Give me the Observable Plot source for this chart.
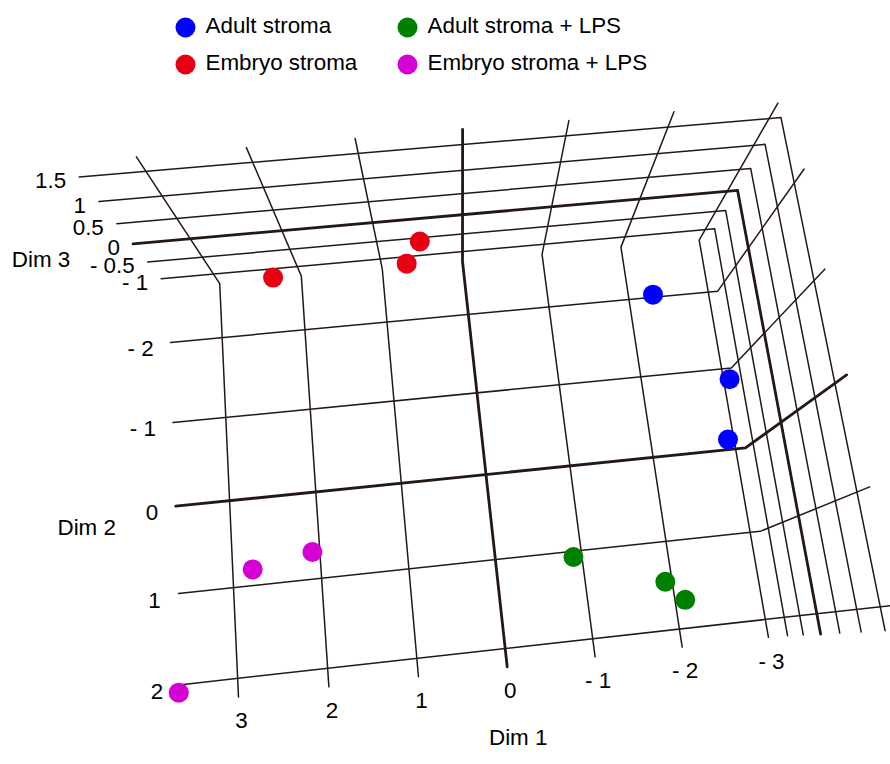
<!DOCTYPE html>
<html>
<head>
<meta charset="utf-8">
<script src="https://cdn.jsdelivr.net/npm/d3@7"></script>
<script src="https://cdn.jsdelivr.net/npm/@observablehq/plot@0.6"></script>
<style>
  html, body { margin: 0; padding: 0; background: #fff; overflow: hidden; }
  #chart svg { display: block; }
</style>
</head>
<body>
<div id="chart"></div>
<script>
// ---- data ----
const groups = ["Adult stroma", "Embryo stroma", "Adult stroma + LPS", "Embryo stroma + LPS"];
const groupColors = ["#0000ff", "#e60012", "#008000", "#d400d4"];

const sampleGroup = [
  "Adult stroma", "Adult stroma", "Adult stroma",
  "Embryo stroma", "Embryo stroma", "Embryo stroma",
  "Adult stroma + LPS", "Adult stroma + LPS", "Adult stroma + LPS",
  "Embryo stroma + LPS", "Embryo stroma + LPS", "Embryo stroma + LPS"
];
const dim1 = [-2.18, -3.01, -2.68, 0.50, 0.65, 1.89, -0.70, -1.68, -1.81, 2.40, 1.78, 3.22];
const dim2 = [-1.85, -0.81, 0.03, -1.88, -1.75, -1.56, 1.20, 1.51, 1.72, 1.01, 0.94, 2.07];
const dim3 = [-0.8, -1.1, -0.5, 1.2, 1.0, 1.4, 0.3, -0.2, 0.0, 0.5, 0.8, 0.2];

const dim1Ticks = [3, 2, 1, 0, -1, -2, -3];
const dim1Labels = ["3", "2", "1", "0", "- 1", "- 2", "- 3"];
const dim2Ticks = [-2, -1, 0, 1, 2];
const dim2Labels = ["- 2", "- 1", "0", "1", "2"];
const dim3Ticks = [-1, -0.5, 0, 0.5, 1, 1.5];
const dim3Labels = ["- 1", "- 0.5", "0", "0.5", "1", "1.5"];

// box extents (data units)
const dim1Extent = [-3.12, 3.62];
const dim2Extent = [-2.7, 2.2];
const dim3Extent = [-1.3, 1.77];

// ---- 3D view (homogeneous perspective camera matrix) ----
const camera = [
  [-86.5,   -1,     -40.12,  433.34],
  [  6.5,   73.4,   -56.66,  400.34],
  [-0.00448, -0.021, -0.0869, 0.88703]
];
function project(X, Y, Z) {
  const h = camera.map(r => r[0] * X + r[1] * Y + r[2] * Z + r[3]);
  return [h[0] / h[2], h[1] / h[2]];
}

const [x0, x1] = dim1Extent, [y0, y1] = dim2Extent, [z0, z1] = dim3Extent;

// grid polylines (floor + two walls)
const grid = [];
function addLine(id, pts, thick) {
  pts.forEach(([X, Y, Z]) => {
    const [px, py] = project(X, Y, Z);
    grid.push({id, px, py, thick});
  });
}
dim1Ticks.forEach(v => addLine("d1_" + v, [[v, y1, z0], [v, y0, z0], [v, y0, z1]], v === 0));
dim2Ticks.forEach(v => addLine("d2_" + v, [[x1, v, z0], [x0, v, z0], [x0, v, z1]], v === 0));
dim3Ticks.forEach(v => addLine("d3_" + v, [[x1, y0, v], [x0, y0, v], [x0, y1, v]], v === 0));

// sample points
const samples = sampleGroup.map((g, i) => {
  const [px, py] = project(dim1[i], dim2[i], dim3[i]);
  return {group: g, px, py};
});

// tick labels
const t1 = dim1Ticks.map((v, i) => { const [px, py] = project(v, y1, z0); return {px, py, label: dim1Labels[i]}; });
const t2 = dim2Ticks.map((v, i) => { const [px, py] = project(x1 + 0.2, v, z0); return {px, py, label: dim2Labels[i]}; });
const t3 = dim3Ticks.map((v, i) => { const [px, py] = project(x1, y0, v); return {px, py, label: dim3Labels[i]}; });

// axis titles anchored to box points
const a1 = project(0, y1, z0), a2 = project(x1, 0, z0), a3 = project(x1, y0, 0);

// legend layout
const legend = groups.map((g, i) => ({
  group: g,
  lx: 185 + Math.floor(i / 2) * 222,
  ly: 27 + (i % 2) * 37
}));

const ink = "#231815";
const font = "Liberation Sans, Arial, Helvetica, sans-serif";
const fs = 22.4;

const chart = Plot.plot({
  width: 890,
  height: 764,
  margin: 0,
  style: {fontFamily: font, background: "#fff"},
  x: {domain: [0, 890], range: [0, 890], axis: null},
  y: {domain: [0, 764], range: [0, 764], axis: null},
  color: {domain: groups, range: groupColors},
  marks: [
    Plot.line(grid.filter(d => !d.thick), {x: "px", y: "py", z: "id", stroke: ink, strokeWidth: 1.5, clip: true}),
    Plot.line(grid.filter(d => d.thick), {x: "px", y: "py", z: "id", stroke: ink, strokeWidth: 2.8, clip: true}),
    Plot.dot(samples, {x: "px", y: "py", r: 10, fill: "group", stroke: null}),
    Plot.text(t1, {x: "px", y: "py", text: "label", dx: 3, dy: 24, textAnchor: "middle", fontSize: fs, fill: "#000"}),
    Plot.text(t2, {x: "px", y: "py", text: "label", dy: 5, textAnchor: "end", fontSize: fs, fill: "#000"}),
    Plot.text(t3, {x: "px", y: "py", text: "label", dx: -13, dy: 4, textAnchor: "end", fontSize: fs, fill: "#000"}),
    Plot.text([{px: a1[0], py: a1[1]}], {x: "px", y: "py", text: () => "Dim 1", dx: 11, dy: 71, fontSize: fs, fill: "#000"}),
    Plot.text([{px: a2[0], py: a2[1]}], {x: "px", y: "py", text: () => "Dim 2", dx: -89, dy: 22, fontSize: fs, fill: "#000"}),
    Plot.text([{px: a3[0], py: a3[1]}], {x: "px", y: "py", text: () => "Dim 3", dx: -92, dy: 16, fontSize: fs, fill: "#000"}),
    Plot.dot(legend, {x: "lx", y: "ly", r: 10, fill: "group", stroke: null}),
    Plot.text(legend, {x: "lx", y: "ly", text: "group", dx: 20, dy: -2, textAnchor: "start", fontSize: fs, fill: "#000"})
  ]
});
document.getElementById("chart").appendChild(chart);
</script>
</body>
</html>
